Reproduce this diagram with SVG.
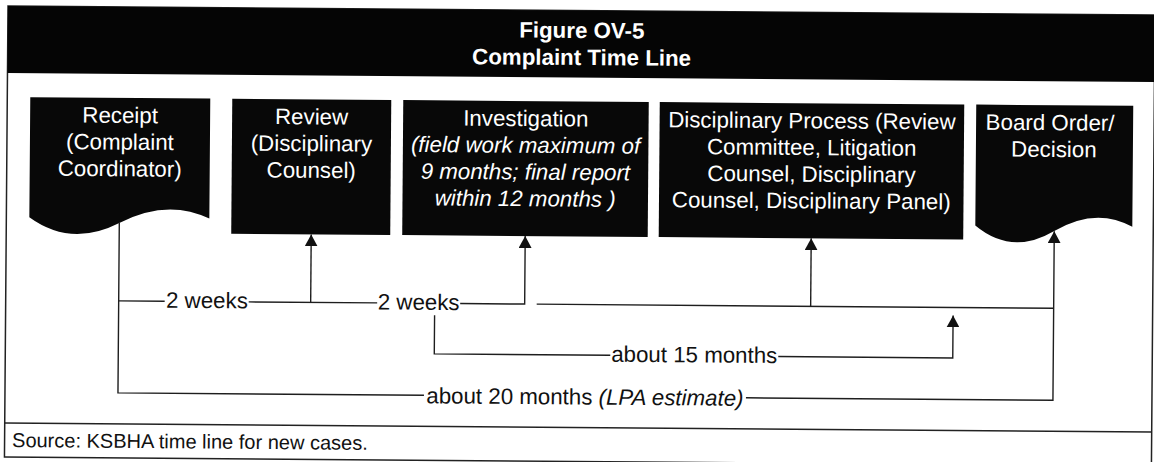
<svg xmlns="http://www.w3.org/2000/svg" width="1154" height="462" viewBox="0 0 1154 462">
  <defs>
    <style>
      .frame{fill:none;stroke:#222;stroke-width:1.5}
      .band{fill:#050505}
      .node{fill:#080808}
      .title{font-family:"Liberation Sans",Arial,sans-serif;font-size:22.3px;font-weight:bold;fill:#fff;text-anchor:middle}
      .ntext{font-family:"Liberation Sans",Arial,sans-serif;font-size:22.3px;fill:#fff;text-anchor:middle}
      .it{font-style:italic}
      .wire{fill:none;stroke:#1e1e1e;stroke-width:1.4}
      .label{font-family:"Liberation Sans",Arial,sans-serif;font-size:22.3px;fill:#111;text-anchor:middle}
      .source{font-family:"Liberation Sans",Arial,sans-serif;font-size:20px;fill:#111}
    </style>
    <marker id="arrowhead" markerUnits="userSpaceOnUse" markerWidth="12" markerHeight="13" refX="12" refY="6.5" orient="auto" viewBox="0 0 12 13">
      <path d="M0,0 L12,6.5 L0,13 Z" fill="#111"/>
    </marker>
  </defs>

  <rect width="1154" height="462" fill="#fff"/>

  <!-- whole figure sits a touch off-square on the page -->
  <g transform="rotate(0.45 8 6)">
    <!-- frame, title band and source strip -->
    <g id="frame">
      <rect class="frame" x="8" y="6" width="1147" height="451"/>
      <rect class="band" x="8" y="6" width="1147" height="67"/>
      <line class="frame" x1="8" y1="423" x2="1155" y2="423"/>
      <text class="title" x="582" y="33.5">Figure OV-5</text>
      <text class="title" x="582" y="60.5">Complaint Time Line</text>
      <text class="source" x="15.5" y="447">Source: KSBHA time line for new cases.</text>
    </g>

    <!-- stages -->
    <g id="receipt">
      <path class="node" d="M31,97 H211 V217 Q169.1,197 121,222 Q72.9,247 31,217 Z"/>
      <text class="ntext" x="121" y="122">Receipt</text>
      <text class="ntext" x="121" y="148.7">(Complaint</text>
      <text class="ntext" x="121" y="175.4">Coordinator)</text>
    </g>

    <g id="review">
      <rect class="node" x="233" y="97" width="159" height="135"/>
      <text class="ntext" x="312.5" y="122">Review</text>
      <text class="ntext" x="312.5" y="148.7">(Disciplinary</text>
      <text class="ntext" x="312.5" y="175.4">Counsel)</text>
    </g>

    <g id="investigation">
      <rect class="node" x="404" y="97" width="245.5" height="135"/>
      <text class="ntext" x="526.7" y="122">Investigation</text>
      <text class="ntext it" x="526.7" y="148.7">(field work maximum of</text>
      <text class="ntext it" x="526.7" y="175.4">9 months; final report</text>
      <text class="ntext it" x="526.7" y="202.1">within 12 months )</text>
    </g>

    <g id="disciplinary-process">
      <rect class="node" x="660.5" y="97" width="304.5" height="135"/>
      <text class="ntext" x="812.8" y="122">Disciplinary Process (Review</text>
      <text class="ntext" x="812.8" y="148.7">Committee, Litigation</text>
      <text class="ntext" x="812.8" y="175.4">Counsel, Disciplinary</text>
      <text class="ntext" x="812.8" y="202.1">Counsel, Disciplinary Panel)</text>
    </g>

    <g id="board-order">
      <path class="node" d="M977,97 H1134 V218 Q1097.4,198 1055.5,223 Q1013.6,248 977,218 Z"/>
      <text class="ntext" x="1051" y="122">Board Order/</text>
      <text class="ntext" x="1055" y="148.7">Decision</text>
    </g>

    <!-- time-span connectors -->
    <g id="connectors">
      <!-- receipt to review, review to investigation -->
      <path class="wire" d="M121,300 H167 M251,300 H379.5 M462.5,300 H527 V232" marker-end="url(#arrowhead)"/>
      <path class="wire" d="M313,300 V232" marker-end="url(#arrowhead)"/>
      <!-- investigation onward to disciplinary process -->
      <path class="wire" d="M539,300 H1056"/>
      <path class="wire" d="M813,300 V232" marker-end="url(#arrowhead)"/>
      <!-- about 15 months -->
      <path class="wire" d="M437,312 V350.5 H613 M781,350.5 H955.5 V308" marker-end="url(#arrowhead)"/>
      <!-- about 20 months overall -->
      <path class="wire" d="M121,222 V392 H427 M749,392 H1056 V223" marker-end="url(#arrowhead)"/>

      <text class="label" x="209.3" y="306.5">2 weeks</text>
      <text class="label" x="421" y="306.5">2 weeks</text>
      <text class="label" x="697" y="357">about 15 months</text>
      <text class="label" x="588" y="400">about 20 months <tspan class="it">(LPA estimate)</tspan></text>
    </g>
  </g>
</svg>
